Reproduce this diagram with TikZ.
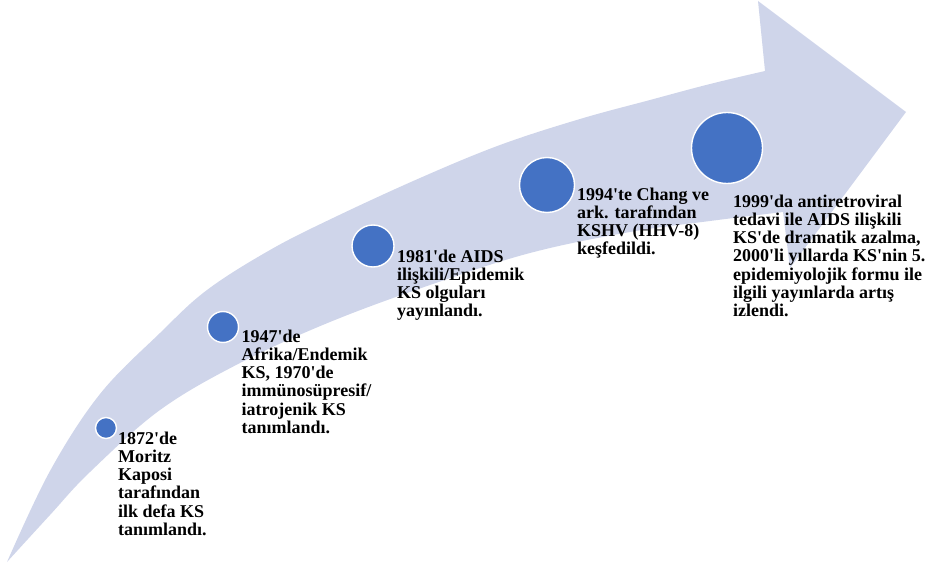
\documentclass[tikz,border=0pt]{standalone}
\usepackage{fontspec}
\setmainfont{Liberation Serif}[Ligatures=TeXOff]
\definecolor{bandcol}{RGB}{207,213,234}
\definecolor{dotcol}{RGB}{68,114,196}
\begin{document}
\begin{tikzpicture}[x=1pt,y=-1pt,
  dot/.style={circle,fill=dotcol,draw=white,line width=1.4pt,inner sep=0pt,minimum size=#1},
  lbl/.style={anchor=north west,inner sep=0pt,align=left,
    font=\fontsize{18}{18.1}\selectfont\bfseries}]
\useasboundingbox (0,0) rectangle (929,567);
% arrow band
\fill[bandcol] (7,562)
  -- plot[smooth,tension=0.6] coordinates {(7,562) (50,471) (100,394) (160,333) (207,290) (270,250) (333,218) (420,178) (500,145) (580,119) (650,100) (710,84) (765,71)}
  -- (758,1) -- (906,112) -- (790,268) -- (783,212)
  -- plot[smooth,tension=0.6] coordinates {(783,212) (710,221) (630,232) (530,253) (430,285) (330,322) (240,363) (160,410) (90,472) (50,515) (7,562)}
  -- cycle;
% circles
\node[dot=21pt] (c1) at (106,428) {};
\node[dot=31pt] (c2) at (223,327) {};
\node[dot=42pt] (c3) at (373,246) {};
\node[dot=55pt] (c4) at (547,185) {};
\node[dot=71pt] (c5) at (727,148) {};
% labels
\node[lbl] (t1) at (118,432) {1872'de\\Moritz\\Kaposi\\tarafından\\ilk defa KS\\tanımlandı.};
\node[lbl] (t2) at (241.5,330) {1947'de\\Afrika/Endemik\\KS, 1970'de\\immünosüpresif/\\iatrojenik KS\\tanımlandı.};
\node[lbl] (t3) at (397,250) {1981'de AIDS\\ilişkili/Epidemik\\KS olguları\\yayınlandı.};
\node[lbl] (t4) at (577,188) {1994'te Chang ve\\ark. tarafından\\KSHV (HHV-8)\\keşfedildi.};
\node[lbl] (t5) at (733,195) {1999'da antiretroviral\\tedavi ile AIDS ilişkili\\KS'de dramatik azalma,\\2000'li yıllarda KS'nin 5.\\epidemiyolojik formu ile\\ilgili yayınlarda artış\\izlendi.};
\end{tikzpicture}
\end{document}
